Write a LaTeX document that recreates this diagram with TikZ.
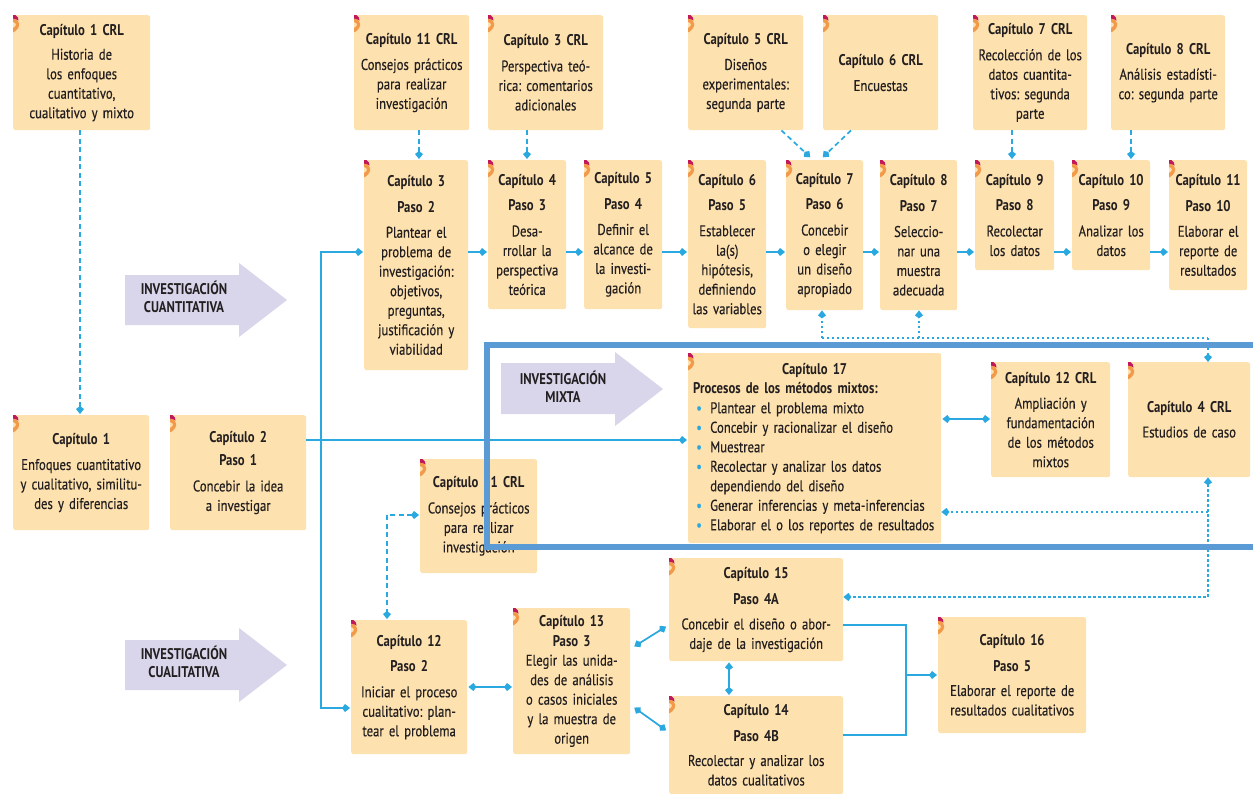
\documentclass[tikz,border=0pt]{standalone}
\usepackage{fontspec}
\setmainfont{PT Sans}[FakeStretch=0.82, UprightFeatures={FakeBold=0.3}]
\usetikzlibrary{arrows.meta,calc}

\definecolor{boxfill}{HTML}{FDE1AE}
\definecolor{markorange}{HTML}{F39A4A}
\definecolor{markred}{HTML}{C2185B}
\definecolor{conn}{HTML}{2AA8E0}
\definecolor{lav}{HTML}{D9D6EB}
\definecolor{framec}{HTML}{5B9BD5}
\definecolor{txt}{HTML}{231F20}

\frenchspacing
\newcommand\bodyfont{\fontsize{15.5}{19.5}\selectfont}
\newcommand\hd[1]{{\bfseries #1}}
\newcommand\bul{\makebox[17pt][l]{\hspace{3pt}\textcolor{conn}{\textbullet}}}

% small orange/crimson tab in the top-left corner of a box
\newcommand\cornermark[1]{%
  \begin{scope}[shift={(#1.north west)}]
    \fill[markorange] (0,3) .. controls (7,4) and (9,12) .. (1,17) -- (0,17) -- (0,13)
      .. controls (4,11) and (4,8) .. (0,7) -- cycle;
    \fill[markred] (0,0) -- (2.5,0) .. controls (4.5,1.5) and (5.5,3) .. (5.5,5.5)
      .. controls (3.5,4.2) and (2,3.6) .. (0,3.6) -- cycle;
  \end{scope}}

\tikzset{
  box/.style={fill=boxfill, rounded corners=2.5pt, inner xsep=0pt, inner ysep=0pt,
    align=center, anchor=north west, text=txt, font=\bodyfont},
  tipk/.tip={Kite[length=8pt,width=8pt,inset=3pt]},
  conn/.style={draw=conn, line width=1.7pt, -tipk, shorten >=1pt},
  both/.style={conn, tipk-tipk, shorten <=1pt},
  plainc/.style={draw=conn, line width=1.7pt},
  dashc/.style={dash pattern=on 5pt off 3.5pt},
  dotc/.style={draw=conn, line width=1.5pt, dash pattern=on 2.4pt off 2.6pt},
  bigarrow/.style={fill=lav},
  bigtext/.style={font=\fontsize{15.5}{18}\selectfont\bfseries, text=txt, align=center},
}

\newcommand\bx[6]{\node[box, minimum width=#4pt, minimum height=#5pt, text width=#4pt] (#1) at (#2,#3) {#6};\cornermark{#1}}

\begin{document}
\begin{tikzpicture}[x=1pt,y=-1pt]
\fill[white] (0,0) rectangle (1253,793);
\useasboundingbox (0,0) rectangle (1253,793);

% ---- big direction arrows
\fill[bigarrow] (125,275) -- (239,275) -- (239,263) -- (287,300) -- (239,337) -- (239,325) -- (125,325) -- cycle;
\node[bigtext] (tquant) at (184,297) {INVESTIGACIÓN\\CUANTITATIVA};
\fill[bigarrow] (125,640) -- (239,640) -- (239,628) -- (287,665) -- (239,702) -- (239,690) -- (125,690) -- cycle;
\node[bigtext] (tcual) at (184,662) {INVESTIGACIÓN\\CUALITATIVA};
\fill[bigarrow] (501,363) -- (615,363) -- (615,352) -- (663,389) -- (615,426) -- (615,414) -- (501,414) -- cycle;
\node[bigtext] (tmix) at (563,387) {INVESTIGACIÓN\\MIXTA};

% ---- complementary chapters (top)
\bx{c1crl}{13}{15}{137}{115}{\hd{Capítulo 1 CRL}\\[5pt]Historia de\\los enfoques\\cuantitativo,\\cualitativo y mixto}
\bx{c11crl}{354}{15}{115}{115}{\hd{Capítulo 11 CRL}\\[6pt]Consejos prácticos\\para realizar\\investigación}
\bx{c3crl}{488}{15}{115}{115}{\hd{Capítulo 3 CRL}\\[6pt]Perspectiva teó-\\rica: comentarios\\adicionales}
\bx{c5crl}{688}{15}{115}{115}{\hd{Capítulo 5 CRL}\\[6pt]Diseños\\experimentales:\\segunda parte}
\bx{c6crl}{823}{15}{115}{115}{\hd{Capítulo 6 CRL}\\[6pt]Encuestas}
\bx{c7crl}{973}{15}{114}{115}{\hd{Capítulo 7 CRL}\\[6pt]Recolección de los\\datos cuantita-\\tivos: segunda\\parte}
\bx{c8crl}{1111}{15}{114}{115}{\hd{Capítulo 8 CRL}\\[6pt]Análisis estadísti-\\co: segunda parte}

% ---- quantitative steps
\bx{s3}{364}{160}{104}{210}{\hd{Capítulo 3}\\[6pt]\hd{Paso 2}\\[6pt]Plantear el\\problema de\\investigación:\\objetivos,\\preguntas,\\justificación y\\viabilidad}
\bx{s4}{488}{160}{78}{149}{\hd{Capítulo 4}\\[6pt]\hd{Paso 3}\\[6pt]Desa-\\rrollar la\\perspectiva\\teórica}
\bx{s5}{584}{160}{78}{149}{\hd{Capítulo 5}\\[6pt]\hd{Paso 4}\\[6pt]Definir el\\alcance de\\la investi-\\gación}
\bx{s6}{688}{160}{78}{168}{\hd{Capítulo 6}\\[6pt]\hd{Paso 5}\\[6pt]Establecer\\la(s)\\hipótesis,\\definiendo\\las variables}
\bx{s7}{786}{160}{77}{150}{\hd{Capítulo 7}\\[6pt]\hd{Paso 6}\\[6pt]Concebir\\o elegir\\un diseño\\apropiado}
\bx{s8}{880}{160}{77}{150}{\hd{Capítulo 8}\\[6pt]\hd{Paso 7}\\[6pt]Seleccio-\\nar una\\muestra\\adecuada}
\bx{s9}{975}{160}{79}{110}{\hd{Capítulo 9}\\[6pt]\hd{Paso 8}\\[6pt]Recolectar\\los datos}
\bx{s10}{1072}{160}{78}{110}{\hd{Capítulo 10}\\[6pt]\hd{Paso 9}\\[6pt]Analizar los\\datos}
\bx{s11}{1169}{160}{78}{130}{\hd{Capítulo 11}\\[6pt]\hd{Paso 10}\\[6pt]Elaborar el\\reporte de\\resultados}

% ---- middle row
\bx{c1}{13}{415}{136}{115}{\hd{Capítulo 1}\\[6pt]Enfoques cuantitativo\\y cualitativo, similitu-\\des y diferencias}
\bx{c2}{170}{415}{136}{115}{\hd{Capítulo 2}\\[4pt]\hd{Paso 1}\\[6pt]Concebir la idea\\a investigar}
\bx{c11b}{420}{459}{117}{114}{\hd{Capítulo 11 CRL}\\[6pt]Consejos prácticos\\para realizar\\investigación}
\node[box, align=left, inner xsep=5pt, minimum width=253pt, minimum height=190pt, text width=243pt] (c17) at (688,353)
  {\makebox[243pt]{\bfseries Capítulo 17}\\
   {\bfseries Procesos de los métodos mixtos:}\\
   \bul Plantear el problema mixto\\
   \bul Concebir y racionalizar el diseño\\
   \bul Muestrear\\
   \bul Recolectar y analizar los datos\\
   \hspace*{17pt}dependiendo del diseño\\
   \bul Generar inferencias y meta-inferencias\\
   \bul Elaborar el o los reportes de resultados};
\cornermark{c17}
\bx{c12crl}{991}{362}{119}{115}{\hd{Capítulo 12 CRL}\\[6pt]Ampliación y\\fundamentación\\de los métodos\\mixtos}
\bx{c4crl}{1128}{362}{122}{115}{\hd{Capítulo 4 CRL}\\[5pt]Estudios de caso}

% ---- qualitative steps
\bx{q12}{351}{620}{116}{134}{\hd{Capítulo 12}\\[6pt]\hd{Paso 2}\\[6pt]Iniciar el proceso\\cualitativo: plan-\\tear el problema}
\bx{q13}{513}{608}{117}{146}{\hd{Capítulo 13}\\\hd{Paso 3}\\Elegir las unida-\\des de análisis\\o casos iniciales\\y la muestra de\\origen}
\bx{q15}{669}{558}{174}{103}{\hd{Capítulo 15}\\[7pt]\hd{Paso 4A}\\[5pt]Concebir el diseño o abor-\\daje de la investigación}
\bx{q14}{669}{696}{174}{98}{\hd{Capítulo 14}\\[6pt]\hd{Paso 4B}\\[5pt]Recolectar y analizar los\\datos cualitativos}
\bx{q16}{938}{617}{148}{116}{\hd{Capítulo 16}\\[6pt]\hd{Paso 5}\\[5pt]Elaborar el reporte de\\resultados cualitativos}

% ---- routing coordinates
\coordinate (k1) at (80,0);
\coordinate (k2) at (419,0);
\coordinate (k3) at (527,0);
\coordinate (k4) at (1012,0);
\coordinate (k5) at (1131,0);
\coordinate (rowq) at (0,252);
\coordinate (rowc2) at (0,440);
\coordinate (spl) at (321,440);
\coordinate (rowq12) at (0,708);
\coordinate (rowmix) at (0,419);
\coordinate (dotx) at (1208,0);
\coordinate (doty1) at (0,338);
\coordinate (doty2) at (0,512);
\coordinate (doty3) at (0,597);
\coordinate (a7) at (822,0);
\coordinate (a8) at (919,0);
\coordinate (dashx) at (387,0);
\coordinate (dashy) at (0,515);
\coordinate (r1213) at (0,687);
\coordinate (jx) at (906,0);
\coordinate (r15) at (0,625);
\coordinate (r14) at (0,735);
\coordinate (r16) at (0,675);
\coordinate (xq) at (729,0);

% ---- complementary chapter links
\draw[conn, dashc] (c1crl.south -| k1) -- (c1.north -| k1);
\draw[conn, dashc] (c11crl.south -| k2) -- (s3.north -| k2);
\draw[conn, dashc] (c3crl.south -| k3) -- (s4.north -| k3);
\draw[conn, dashc] (c7crl.south -| k4) -- (s9.north -| k4);
\draw[conn, dashc] (c8crl.south -| k5) -- (s10.north -| k5);
\draw[conn, dashc] ($(c5crl.south east)+(-22,0)$) -- ($(s7.north west)+(25,-2)$);
\draw[conn, dashc] ($(c6crl.south west)+(28,0)$) -- ($(s7.north west)+(36,-2)$);

% ---- quantitative sequence
\foreach \a/\b in {s3/s4,s4/s5,s5/s6,s6/s7,s7/s8,s8/s9,s9/s10,s10/s11}
  \draw[conn] (\a.east |- rowq) -- (\b.west |- rowq);

% ---- idea to the three routes
\draw[conn] (c2.east |- rowc2) -- (c17.west |- rowc2);
\draw[conn] (spl) |- (s3.west |- rowq);
\draw[conn] (spl) |- (q12.west |- rowq12);

% ---- mixed methods
\draw[both] (c17.east |- rowmix) -- (c12crl.west |- rowmix);

% ---- case studies network (dotted)
\draw[dotc] (a7 |- doty1) -- (dotx |- doty1);
\draw[dotc, -tipk] (a7 |- doty1) -- (s7.south -| a7);
\draw[dotc, -tipk] (a8 |- doty1) -- (s8.south -| a8);
\draw[dotc, -tipk] (dotx |- doty1) -- (c4crl.north -| dotx);
\draw[dotc, tipk-tipk] (c4crl.south -| dotx) -- (dotx |- doty3) -- (q15.east |- doty3);
\draw[dotc, -tipk] (dotx |- doty2) -- (c17.east |- doty2);

% ---- practical advice to qualitative start
\draw[conn, dashc, tipk-tipk, shorten <=1pt] (c11b.west |- dashy) -| (q12.north -| dashx);

% ---- qualitative sequence
\draw[both] (q12.east |- r1213) -- (q13.west |- r1213);
\draw[both] ($(q13.north east)+(3,39)$) -- ($(q15.north west)+(-2,68)$);
\draw[both] ($(q13.north east)+(3,99)$) -- ($(q14.north west)+(-2,35)$);
\draw[both] (q15.south -| xq) -- (q14.north -| xq);
\draw[plainc] (q15.east |- r15) -| (jx |- r14) -- (q14.east |- r14);
\draw[conn] (jx |- r16) -- (q16.west |- r16);

% ---- mixed methods frame
\draw[draw=framec, line width=6pt] (487,345) rectangle (1270,547);
\end{tikzpicture}
\end{document}
